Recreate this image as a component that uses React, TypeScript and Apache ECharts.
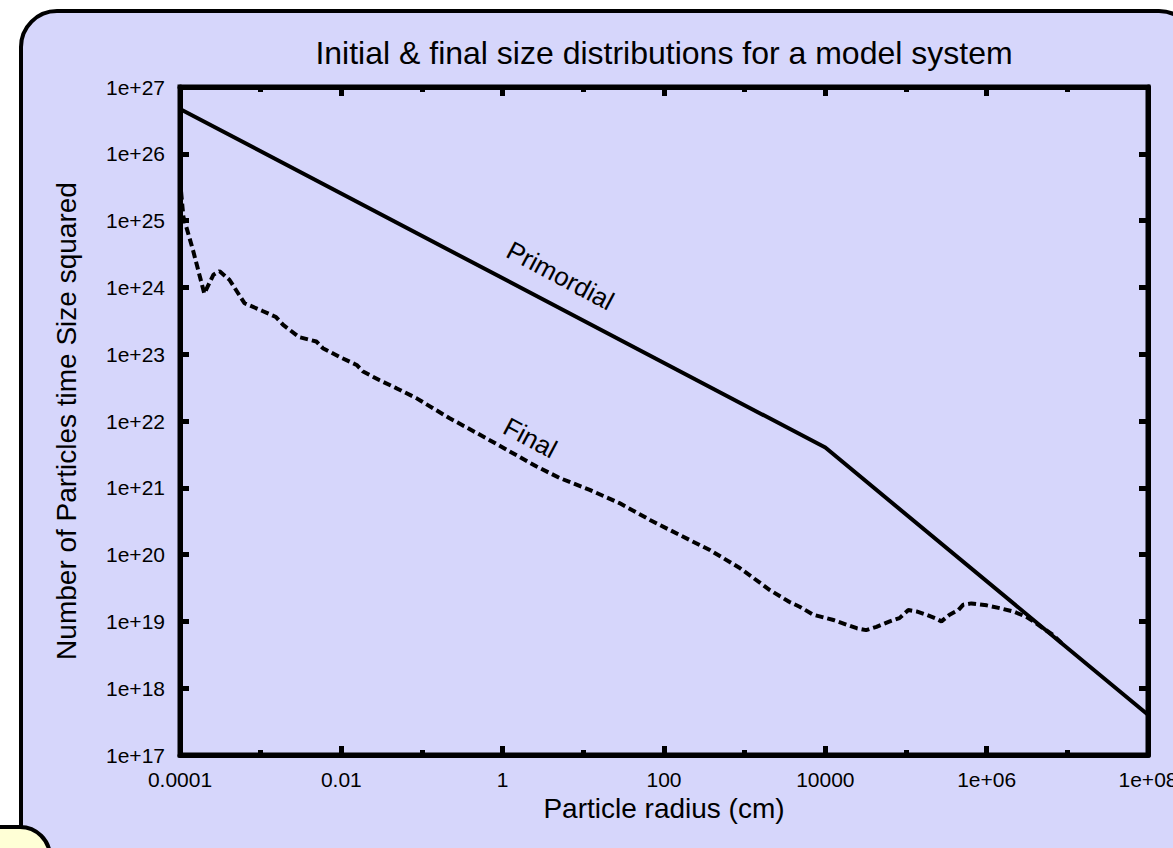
import React, { useEffect, useRef } from "react";
import * as echarts from "echarts";

const W = 1173;
const H = 848;

// ---- data ----
const primordialRadius = [1e-4, 1e4, 1e8];
const primordialValue = [4.7e26, 4.0e21, 4.0e17];

const finalRadius = [
  1.0e-4, 1.1e-4, 1.45e-4, 2.0e-4, 2.6e-4, 3.1e-4, 4.1e-4, 6.3e-4, 1.07e-3, 1.55e-3,
  1.9e-3, 3.0e-3, 4.9e-3, 5.9e-3, 9.5e-3, 1.55e-2, 1.86e-2, 2.95e-2, 4.8e-2, 8.5e-2,
  0.22, 0.63, 2.6, 5.1, 12, 28, 67, 157, 370, 870,
  2050, 3600, 4800, 7100, 12600, 24500, 32000, 43000, 63000, 83000,
  107000, 135000, 178000, 229000, 275000, 347000, 447000, 513000, 646000, 1.0e6,
  1.45e6, 2.14e6, 3.1e6, 3.8e6, 5.0e6, 6.6e6, 8.9e6,
];
const finalValue = [
  4.1e25, 1.15e25, 3.6e24, 8.1e23, 1.55e24, 1.75e24, 1.3e24, 5.8e23, 4.4e23, 3.6e23,
  2.75e23, 1.8e23, 1.55e23, 1.23e23, 9.1e22, 6.9e22, 5.5e22, 4.1e22, 3.1e22, 2.2e22,
  1.1e22, 5.5e21, 2.1e21, 1.4e21, 9.3e20, 5.9e20, 3.3e20, 1.96e20, 1.17e20, 6.3e19,
  2.95e19, 1.95e19, 1.66e19, 1.26e19, 1.05e19, 7.9e18, 7.4e18, 8.3e18, 1.0e19, 1.12e19,
  1.48e19, 1.41e19, 1.26e19, 1.12e19, 1.0e19, 1.26e19, 1.48e19, 1.78e19, 1.86e19, 1.74e19,
  1.58e19, 1.41e19, 1.17e19, 1.0e19, 7.9e18, 6.3e18, 4.5e18,
];

const xTickLabels = ["0.0001", "0.01", "1", "100", "10000", "1e+06", "1e+08"];
const yTickLabels = [
  "1e+17", "1e+18", "1e+19", "1e+20", "1e+21", "1e+22",
  "1e+23", "1e+24", "1e+25", "1e+26", "1e+27",
];
const xMinExp = -4;
const xMaxExp = 8;
const yMinExp = 17;
const yMaxExp = 27;

const titleText = "Initial & final size distributions for a model system";
const xName = "Particle radius (cm)";
const yName = "Number of Particles time Size squared";

const curveLabelTexts = ["Primordial", "Final"];
const curveLabelRadius = [5.2, 2.2];
const curveLabelValue = [1.5e24, 5.6e21];

// ---- styles ----
const FONT = "'Liberation Sans', Arial, Helvetica, sans-serif";
const PANEL = "#d6d6fb";
const NOTE = "#ffffd6";

const toPairs = (xs: number[], ys: number[]) =>
  xs.map((x, i) => [Math.log10(x), Math.log10(ys[i])]);

export default function App() {
  const ref = useRef<HTMLDivElement>(null);

  useEffect(() => {
    if (!ref.current) return;
    const chart = echarts.init(ref.current, undefined, { renderer: "svg" });

    const axisLine = { show: true, onZero: false, lineStyle: { color: "#000", width: 5 } };
    const tick = (len: number) => ({
      show: true,
      inside: true,
      length: len,
      lineStyle: { color: "#000", width: 5 },
    });
    const minor = { show: true, splitNumber: 2, length: 5, lineStyle: { color: "#000", width: 5 } };
    const labelStyle = { color: "#000", fontSize: 21, fontFamily: FONT };

    const baseGraphic: any[] = [
      {
        type: "rect",
        id: "panel",
        z: -10,
        silent: true,
        shape: { x: 21, y: 11, width: 1174, height: 900, r: 36 },
        style: { fill: PANEL, stroke: "#000", lineWidth: 4 },
      },
      {
        type: "rect",
        id: "note",
        z: -9,
        silent: true,
        shape: { x: -60, y: 827, width: 110, height: 80, r: [0, 30, 0, 0] },
        style: { fill: NOTE, stroke: "#000", lineWidth: 4 },
      },
      {
        type: "text",
        id: "title",
        z: 10,
        x: 664,
        y: 53,
        style: {
          text: titleText,
          fill: "#000",
          font: `32px ${FONT}`,
          align: "center",
          verticalAlign: "middle",
        },
      },
    ];

    const option: any = {
      animation: false,
      backgroundColor: "#fff",
      grid: {
        left: 180,
        right: 25,
        top: 87,
        bottom: 93,
        containLabel: false,
        outerBoundsMode: "none",
        show: true,
        borderColor: "#000",
        borderWidth: 5,
        backgroundColor: "transparent",
      },
      xAxis: [
        {
          type: "value",
          position: "bottom",
          min: xMinExp,
          max: xMaxExp,
          interval: 2,
          axisLine,
          axisTick: tick(9),
          minorTick: minor,
          splitLine: { show: false },
          axisLabel: {
            ...labelStyle,
            margin: 14,
            formatter: (v: number) => xTickLabels[Math.round((v - xMinExp) / 2)] ?? "",
          },
          name: xName,
          nameLocation: "middle",
          nameGap: 38,
          nameTextStyle: { color: "#000", fontSize: 28, fontFamily: FONT },
        },
        {
          type: "value",
          position: "top",
          min: xMinExp,
          max: xMaxExp,
          interval: 2,
          axisLine,
          axisTick: tick(9),
          minorTick: minor,
          splitLine: { show: false },
          axisLabel: { show: false },
        },
      ],
      yAxis: [
        {
          type: "value",
          position: "left",
          min: yMinExp,
          max: yMaxExp,
          interval: 1,
          axisLine,
          axisTick: tick(9),
          splitLine: { show: false },
          axisLabel: {
            ...labelStyle,
            margin: 15,
            formatter: (v: number) => yTickLabels[Math.round(v - yMinExp)] ?? "",
          },
          name: yName,
          nameLocation: "middle",
          nameGap: 100,
          nameTextStyle: { color: "#000", fontSize: 28, fontFamily: FONT },
        },
        {
          type: "value",
          position: "right",
          min: yMinExp,
          max: yMaxExp,
          interval: 1,
          axisLine,
          axisTick: tick(9),
          splitLine: { show: false },
          axisLabel: { show: false },
        },
      ],
      series: [
        {
          name: "Primordial",
          type: "line",
          xAxisIndex: 0,
          yAxisIndex: 0,
          data: toPairs(primordialRadius, primordialValue),
          symbol: "none",
          lineStyle: { color: "#000", width: 4 },
          z: 3,
        },
        {
          name: "Final",
          type: "line",
          xAxisIndex: 0,
          yAxisIndex: 0,
          data: toPairs(finalRadius, finalValue),
          symbol: "none",
          lineStyle: { color: "#000", width: 4, type: [8, 4] },
          z: 3,
        },
      ],
      graphic: baseGraphic,
    };

    chart.setOption(option);

    const labelGraphic = curveLabelTexts.map((t, i) => {
      const p = chart.convertToPixel({ gridIndex: 0 }, [
        Math.log10(curveLabelRadius[i]),
        Math.log10(curveLabelValue[i]),
      ]) as number[];
      return {
        type: "text",
        id: "lbl" + i,
        z: 10,
        x: p[0],
        y: p[1],
        rotation: (-28 * Math.PI) / 180,
        style: {
          text: t,
          fill: "#000",
          font: `26px ${FONT}`,
          align: "center",
          verticalAlign: "middle",
        },
      };
    });

    chart.setOption({ graphic: [...baseGraphic, ...labelGraphic] });

    return () => chart.dispose();
  }, []);

  return (
    <div
      ref={ref}
      style={{ position: "fixed", left: 0, top: 0, width: W, height: H, overflow: "hidden" }}
    />
  );
}
